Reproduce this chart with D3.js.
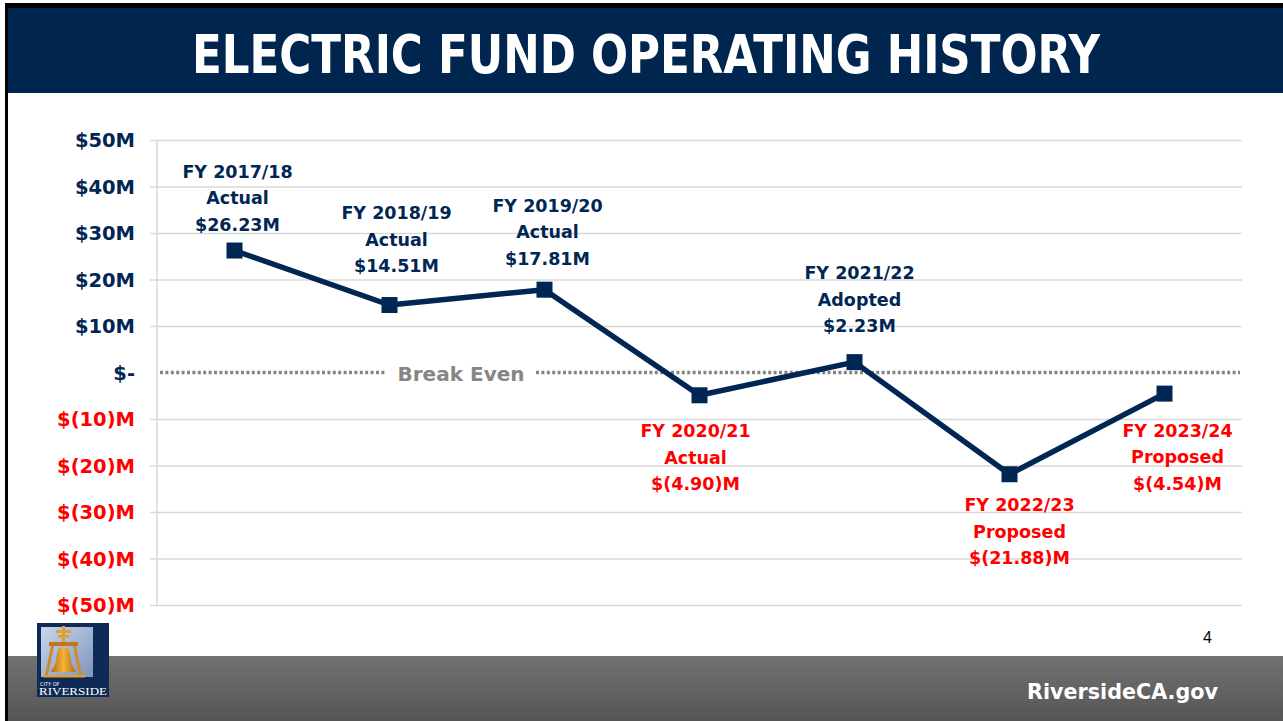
<!DOCTYPE html>
<html><head><meta charset="utf-8">
<script src="https://cdn.jsdelivr.net/npm/d3@7"></script>
<style>html,body{margin:0;padding:0;background:#fff;overflow:hidden}svg{display:block}</style>
</head><body>
<script>
const categories = ["FY 2017/18","FY 2018/19","FY 2019/20","FY 2020/21","FY 2021/22","FY 2022/23","FY 2023/24"];
const statuses = ["Actual","Actual","Actual","Actual","Adopted","Proposed","Proposed"];
const values = [26.23, 14.51, 17.81, -4.90, 2.23, -21.88, -4.54];
const valueLabels = ["$26.23M","$14.51M","$17.81M","$(4.90)M","$2.23M","$(21.88)M","$(4.54)M"];
const yTicks = [50,40,30,20,10,0,-10,-20,-30,-40,-50];
const yTickLabels = ["$50M","$40M","$30M","$20M","$10M","$-","$(10)M","$(20)M","$(30)M","$(40)M","$(50)M"];
// label placement: above or below the point, horizontal offset and gap to the point
const labelSide = ["above","above","above","below","above","below","below"];
const labelDx = [3, 7, 3, -4, 5, 10, 13];
const labelGap = [20, 33, 25, 42, 30, 37, 43];

const W = 1283, H = 721;
const NAVY = "#002654", RED = "#ff0000", GRAY = "#858585";
const FONT = "'DejaVu Sans', sans-serif";

const svg = d3.select("body").append("svg").attr("width", W).attr("height", H);
const defs = svg.append("defs");
const grad = defs.append("linearGradient").attr("id","foot").attr("x1",0).attr("y1",0).attr("x2",0).attr("y2",1);
grad.append("stop").attr("offset","0%").attr("stop-color","#727272");
grad.append("stop").attr("offset","100%").attr("stop-color","#555555");

// frame
svg.append("rect").attr("x",5).attr("y",3).attr("width",W-5).attr("height",H-3).attr("fill","#000");
svg.append("rect").attr("x",8).attr("y",8).attr("width",W-8).attr("height",H-8).attr("fill","#fff");
svg.append("rect").attr("x",8).attr("y",8).attr("width",W-8).attr("height",85).attr("fill","#00264f");
svg.append("text").attr("x",646).attr("y",73).attr("text-anchor","middle")
  .attr("font-family","'DejaVu Sans Condensed','DejaVu Sans',sans-serif").attr("font-weight","bold")
  .attr("font-size",54).attr("fill","#fff").attr("textLength",908).attr("lengthAdjust","spacingAndGlyphs")
  .text("ELECTRIC FUND OPERATING HISTORY");

// footer
svg.append("rect").attr("x",8).attr("y",656).attr("width",W-8).attr("height",H-656).attr("fill","url(#foot)");
svg.append("text").attr("x",1218).attr("y",699).attr("text-anchor","end")
  .attr("font-family",FONT).attr("font-weight","bold").attr("font-size",21).attr("fill","#fff")
  .attr("textLength",191).attr("lengthAdjust","spacingAndGlyphs").text("RiversideCA.gov");
svg.append("text").attr("x",1212).attr("y",643).attr("text-anchor","end")
  .attr("font-family","'Liberation Sans',sans-serif").attr("font-size",16).attr("fill","#000").text("4");

// logo
const logo = svg.append("g").attr("transform","translate(37,623)");
logo.append("rect").attr("width",72).attr("height",74).attr("fill","#0e2a55");
const lg = defs.append("linearGradient").attr("id","sky").attr("x1",0).attr("y1",0).attr("x2",1).attr("y2",1);
lg.append("stop").attr("offset","0%").attr("stop-color","#c9d6ea");
lg.append("stop").attr("offset","100%").attr("stop-color","#7f95bd");
logo.append("rect").attr("x",4).attr("y",4).attr("width",52).attr("height",50).attr("fill","url(#sky)");
const bell = defs.append("linearGradient").attr("id","bell").attr("x1",0).attr("y1",0).attr("x2",1).attr("y2",0);
bell.append("stop").attr("offset","0%").attr("stop-color","#b86a10");
bell.append("stop").attr("offset","50%").attr("stop-color","#f3b43a");
bell.append("stop").attr("offset","100%").attr("stop-color","#b86a10");
logo.append("rect").attr("x",25).attr("y",3).attr("width",3).attr("height",16).attr("fill","#e0a030");
logo.append("rect").attr("x",19).attr("y",7).attr("width",15).attr("height",3).attr("fill","#e0a030");
logo.append("rect").attr("x",21).attr("y",12).attr("width",11).attr("height",2.5).attr("fill","#e0a030");
logo.append("rect").attr("x",12).attr("y",19).attr("width",29).attr("height",4).attr("fill","#c07820");
logo.append("path").attr("d","M14,23 L8,52 L11,52 L17,23 Z M39,23 L45,52 L42,52 L36,23 Z").attr("fill","#d08a25");
logo.append("path").attr("d","M26.5,24 C20,24 20,30 19,38 C18,44 15,46 14,49 L39,49 C38,46 35,44 34,38 C33,30 33,24 26.5,24 Z").attr("fill","url(#bell)");
logo.append("rect").attr("x",6).attr("y",52).attr("width",42).attr("height",2.5).attr("fill","#e0a030");
logo.append("text").attr("x",3).attr("y",63).attr("font-family",FONT).attr("font-size",5).attr("fill","#fff").text("CITY OF");
logo.append("text").attr("x",2).attr("y",72).attr("font-family","'Liberation Serif',serif").attr("font-size",11)
  .attr("fill","#fff").attr("textLength",68).attr("lengthAdjust","spacingAndGlyphs").text("RIVERSIDE");

// scales
const x = d3.scaleBand().domain(categories).range([157,1242]).padding(0);
const y = d3.scaleLinear().domain([-50,50]).range([605,140]);

// gridlines (via axis)
const grid = svg.append("g").attr("transform","translate(1242,0)")
  .call(d3.axisLeft(y).tickValues(yTicks.filter(v=>v!==0)).tickSize(1092).tickFormat(""));
grid.select(".domain").remove();
grid.selectAll("line").attr("stroke","#d9d9d9").attr("stroke-width",1.5);
svg.append("line").attr("x1",157).attr("x2",157).attr("y1",y(50)).attr("y2",y(-50))
  .attr("stroke","#d9d9d9").attr("stroke-width",1.5);

// y tick labels
const yl = svg.append("g").attr("transform","translate(135,0)")
  .call(d3.axisLeft(y).tickValues(yTicks).tickSize(0).tickPadding(0)
    .tickFormat((d,i)=>yTickLabels[yTicks.indexOf(d)]));
yl.select(".domain").remove();
yl.selectAll("text").attr("font-family",FONT).attr("font-weight","bold").attr("font-size",19.5)
  .attr("fill",d=>d<0?RED:NAVY).attr("dy","0.35em");

// break-even line
const y0 = y(0);
svg.append("line").attr("x1",160).attr("x2",386).attr("y1",y0).attr("y2",y0)
  .attr("stroke",GRAY).attr("stroke-width",3.5).attr("stroke-dasharray","3,2.4");
svg.append("line").attr("x1",536).attr("x2",1240).attr("y1",y0).attr("y2",y0)
  .attr("stroke",GRAY).attr("stroke-width",3.5).attr("stroke-dasharray","3,2.4");
svg.append("text").attr("x",461).attr("y",y0+8).attr("text-anchor","middle")
  .attr("font-family",FONT).attr("font-weight","bold").attr("font-size",20).attr("fill",GRAY)
  .attr("textLength",127).attr("lengthAdjust","spacingAndGlyphs").text("Break Even");

// line
const cx = c => x(c) + x.bandwidth()/2;
const line = d3.line().x((d,i)=>cx(categories[i])).y(d=>y(d));
svg.append("path").datum(values).attr("d",line).attr("fill","none")
  .attr("stroke",NAVY).attr("stroke-width",5.5).attr("stroke-linejoin","round");
svg.selectAll("rect.pt").data(values).enter().append("rect").attr("class","pt")
  .attr("x",(d,i)=>cx(categories[i])-8).attr("y",d=>y(d)-8).attr("width",16).attr("height",16).attr("fill",NAVY);

// labels
const lineH = 26.5;
values.forEach((v,i)=>{
  const px = cx(categories[i]) + labelDx[i];
  const py = y(v);
  const lines = [categories[i], statuses[i], valueLabels[i]];
  const firstBase = labelSide[i]==="above" ? py - labelGap[i] - 2*lineH : py + labelGap[i];
  const col = v<0?RED:NAVY;
  lines.forEach((t,k)=>{
    svg.append("text").attr("x",px).attr("y",firstBase + k*lineH).attr("text-anchor","middle")
      .attr("font-family",FONT).attr("font-weight","bold").attr("font-size",17.5).attr("fill",col).text(t);
  });
});
</script>
</body></html>
